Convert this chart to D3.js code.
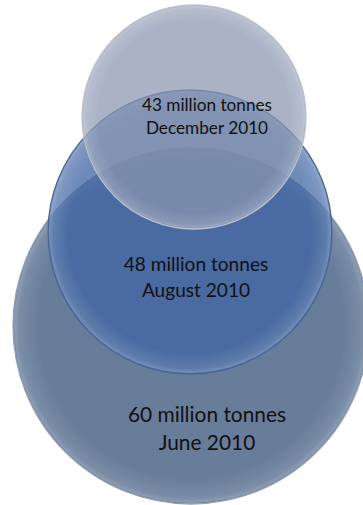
<!DOCTYPE html>
<html>
<head>
<meta charset="utf-8">
<script src="https://cdn.jsdelivr.net/npm/d3@7"></script>
<style>
  html, body { margin: 0; padding: 0; background: #fff; }
  svg { display: block; }
</style>
</head>
<body>
<svg id="chart"></svg>
<script>
// data
const tonnes = [60, 48, 43];
const months = ["June 2010", "August 2010", "December 2010"];

const width = 363;
const height = 505;

const svg = d3.select("#chart")
  .attr("width", width)
  .attr("height", height)
  .style("font-family", "Lato, 'Open Sans', sans-serif");

// the circles in the picture are not strictly proportional, so the scales are piecewise
const r = d3.scaleLinear().domain([43, 48, 60]).range([112, 142, 178]);
const cy = d3.scaleLinear().domain([43, 48, 60]).range([117, 232, 326]);
const cx = d3.scaleLinear().domain([43, 48, 60]).range([194, 190, 191]);

const fill = d3.scaleOrdinal().domain([60, 48, 43]).range(["#687d9a", "#3f65a3", "#8995b0"]);
const alpha = d3.scaleOrdinal().domain([60, 48, 43]).range([1, 0.76, 0.72]);
const edge = d3.scaleOrdinal().domain([60, 48, 43]).range(["#93a1b5", "#4a6896", "#bcc1ca"]);

// label placement and size
const labelX = d3.scaleLinear().domain([43, 48, 60]).range([207, 196, 207]);
const labelY = d3.scaleLinear().domain([43, 48, 60]).range([105, 265, 415]);
const fontSize = d3.scaleLinear().domain([43, 48, 60]).range([17.2, 19.1, 20.9]);

const rows = tonnes.map((t, i) => ({ t: t, month: months[i] }));

// soft rim so the discs look a bit like the bevelled shapes in the picture
const defs = svg.append("defs");
const rim = defs.append("radialGradient").attr("id", "rim");
rim.append("stop").attr("offset", "0.86").attr("stop-color", "#fff").attr("stop-opacity", 0);
rim.append("stop").attr("offset", "0.97").attr("stop-color", "#fff").attr("stop-opacity", 0.12);
rim.append("stop").attr("offset", "1").attr("stop-color", "#fff").attr("stop-opacity", 0.25);

const disc = svg.append("g")
  .selectAll("g")
  .data(rows)
  .join("g");

disc.append("circle")
  .attr("cx", d => cx(d.t))
  .attr("cy", d => cy(d.t))
  .attr("r", d => r(d.t))
  .attr("fill", d => fill(d.t))
  .attr("fill-opacity", d => alpha(d.t))
  .attr("stroke", d => edge(d.t))
  .attr("stroke-width", 1.3);

disc.append("circle")
  .attr("cx", d => cx(d.t))
  .attr("cy", d => cy(d.t))
  .attr("r", d => r(d.t) - 1)
  .attr("fill", "url(#rim)");

const labels = svg.append("g")
  .selectAll("text")
  .data(rows)
  .join("text")
  .attr("text-anchor", "middle")
  .attr("fill", "#111")
  .style("font-size", d => fontSize(d.t) + "px");

labels.append("tspan")
  .attr("x", d => labelX(d.t))
  .attr("y", d => labelY(d.t) + fontSize(d.t) * 0.33)
  .text(d => d.t + " million tonnes");

labels.append("tspan")
  .attr("x", d => labelX(d.t))
  .attr("y", d => labelY(d.t) + fontSize(d.t) * 1.66)
  .text(d => d.month);
</script>
</body>
</html>
